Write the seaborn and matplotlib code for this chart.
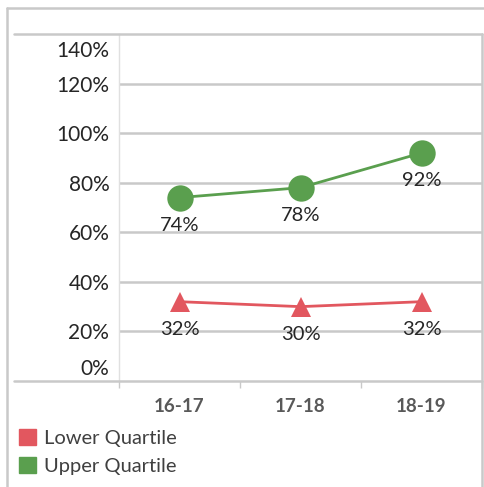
import matplotlib
matplotlib.use("Agg")
import matplotlib.pyplot as plt
import matplotlib.lines as mlines
import matplotlib.patches as mpatches
from matplotlib.transforms import ScaledTranslation
import seaborn as sns
import pandas as pd

categories = ["16-17", "17-18", "18-19"]
lower_quartile = [32, 30, 32]
upper_quartile = [74, 78, 92]
series_names = ["Lower Quartile", "Upper Quartile"]
y_ticks = [0, 20, 40, 60, 80, 100, 120, 140]
y_tick_labels = ["0%", "20%", "40%", "60%", "80%", "100%", "120%", "140%"]

RED = "#E2575F"
GREEN = "#5A9F4E"
GRID = "#C9C9C9"

sns.set_theme(style="white")
plt.rcParams["font.family"] = ["Lato", "DejaVu Sans"]

W, H = 484, 487
fig = plt.figure(figsize=(W / 100, H / 100), dpi=100)
fig.patch.set_facecolor("white")

def fx(px):
    return px / W

def fy(py):
    return 1 - py / H

left, right, top, bottom = 119, 482, 34, 381
ax = fig.add_axes([fx(left), fy(bottom), fx(right) - fx(left), fy(top) - fy(bottom)])

df = pd.DataFrame({
    "cat": categories * 2,
    "x": list(range(len(categories))) * 2,
    "value": lower_quartile + upper_quartile,
    "series": [series_names[0]] * 3 + [series_names[1]] * 3,
})

sns.lineplot(data=df[df.series == series_names[0]], x="x", y="value", ax=ax,
             color=RED, linewidth=2, marker="^", markersize=15,
             markeredgewidth=0, legend=False)
sns.lineplot(data=df[df.series == series_names[1]], x="x", y="value", ax=ax,
             color=GREEN, linewidth=2, marker="o", markersize=19,
             markeredgewidth=0, legend=False)

ax.set_xlim(-0.5, len(categories) - 0.5)
ax.set_ylim(y_ticks[0], y_ticks[-1])
ax.set_xlabel("")
ax.set_ylabel("")

ax.set_yticks(y_ticks)
ax.set_yticklabels(y_tick_labels, fontsize=15, color="#262626")
ax.tick_params(axis="y", length=0, pad=7)
ax.set_xticks(range(len(categories)))
ax.set_xticklabels(categories, fontsize=13.5, fontweight="bold", color="#595959")
ax.set_xticks([i - 0.5 for i in range(len(categories) + 1)], minor=True)
ax.tick_params(axis="x", which="major", length=0, pad=12)
ax.tick_params(axis="x", which="minor", length=5, color=GRID, width=1, bottom=True)

ax.grid(False)
for yv in y_ticks[1:-1]:
    ax.axhline(yv, color=GRID, linewidth=1.8, zorder=0)

for s in ["top", "bottom", "right"]:
    ax.spines[s].set_visible(False)
ax.spines["left"].set_color("#E0E0E0")
ax.spines["left"].set_linewidth(1)

# shift the 0% and 140% labels inward like the reference
labels = ax.get_yticklabels()
labels[0].set_transform(labels[0].get_transform() + ScaledTranslation(0, 14 / 100, fig.dpi_scale_trans))
labels[-1].set_transform(labels[-1].get_transform() + ScaledTranslation(0, -15 / 100, fig.dpi_scale_trans))

# data labels
for vals in (lower_quartile, upper_quartile):
    for i, v in enumerate(vals):
        ax.annotate(f"{v}%", (i, v), xytext=(0, -28), textcoords="offset pixels",
                    ha="center", va="center", fontsize=14.5, color="#262626")

# frame lines
line_kw = dict(color=GRID, linewidth=1.8, transform=fig.transFigure)
fig.add_artist(mlines.Line2D([fx(14), fx(482)], [fy(top), fy(top)], **line_kw))
fig.add_artist(mlines.Line2D([fx(14), fx(482)], [fy(bottom), fy(bottom)], **line_kw))
fig.add_artist(mlines.Line2D([fx(482), fx(482)], [fy(top), fy(H)], **line_kw))
fig.add_artist(mlines.Line2D([fx(7), fx(7)], [fy(8), fy(H)], **line_kw))
fig.add_artist(mlines.Line2D([fx(7), fx(W)], [fy(8), fy(8)], **line_kw))

handles = [mpatches.Patch(color=RED, label=series_names[0]),
           mpatches.Patch(color=GREEN, label=series_names[1])]
leg = fig.legend(handles=handles, loc="center left",
                 bbox_to_anchor=(fx(19), fy(452)), frameon=False,
                 fontsize=14.5, handlelength=0.85, handleheight=0.85,
                 handletextpad=0.4, labelspacing=0.5, borderpad=0,
                 borderaxespad=0)
for t in leg.get_texts():
    t.set_color("#404040")

fig.savefig("out.png", dpi=100)
